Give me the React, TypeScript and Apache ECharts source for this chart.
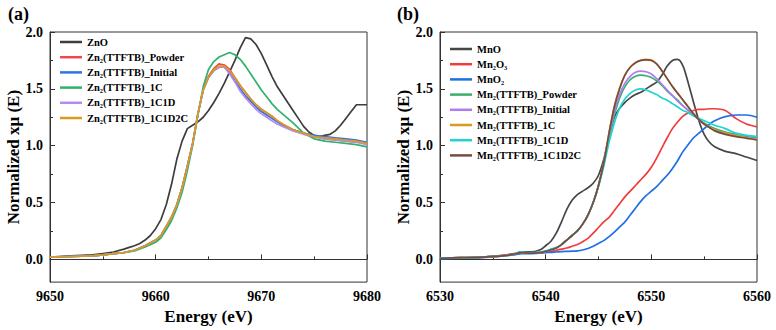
import React, { useEffect, useRef } from "react";
import * as echarts from "echarts";

const FONT = "Liberation Serif";

// ---------- Panel (a): Zn K-edge ----------
const znoEnergy = [9650, 9652, 9654, 9655, 9656, 9657, 9657.5, 9658, 9658.5, 9659, 9659.5, 9660, 9660.5, 9661, 9661.5, 9662, 9662.5, 9663, 9663.5, 9664, 9664.5, 9665, 9665.5, 9666, 9666.5, 9667, 9667.5, 9668, 9668.5, 9669, 9669.5, 9670, 9670.5, 9671, 9671.5, 9672, 9672.5, 9673, 9673.5, 9674, 9674.5, 9675, 9675.5, 9676, 9676.5, 9677, 9677.5, 9678, 9678.5, 9679, 9680];
const znoValues = [0.02, 0.03, 0.04, 0.05, 0.065, 0.09, 0.105, 0.12, 0.14, 0.17, 0.21, 0.27, 0.35, 0.48, 0.66, 0.88, 1.04, 1.15, 1.18, 1.21, 1.25, 1.31, 1.38, 1.46, 1.55, 1.65, 1.75, 1.86, 1.95, 1.94, 1.89, 1.81, 1.71, 1.61, 1.52, 1.45, 1.38, 1.31, 1.24, 1.17, 1.12, 1.09, 1.08, 1.09, 1.1, 1.13, 1.18, 1.24, 1.3, 1.36, 1.36];

const znEnergy = [9650, 9652, 9654, 9655, 9656, 9657, 9658, 9659, 9660, 9660.5, 9661, 9661.5, 9662, 9662.5, 9663, 9663.5, 9664, 9664.5, 9665, 9665.5, 9666, 9666.5, 9667, 9667.5, 9668, 9668.5, 9669, 9669.5, 9670, 9670.5, 9671, 9671.5, 9672, 9673, 9674, 9675, 9676, 9677, 9678, 9679, 9680];
const znPowder = [0.02, 0.025, 0.03, 0.04, 0.05, 0.06, 0.08, 0.12, 0.17, 0.21, 0.29, 0.37, 0.48, 0.63, 0.82, 1.02, 1.28, 1.49, 1.61, 1.68, 1.72, 1.71, 1.67, 1.6, 1.53, 1.47, 1.41, 1.36, 1.32, 1.29, 1.26, 1.22, 1.19, 1.14, 1.11, 1.08, 1.06, 1.05, 1.04, 1.03, 1.02];
const znInitial = [0.02, 0.025, 0.03, 0.04, 0.05, 0.06, 0.08, 0.12, 0.17, 0.21, 0.29, 0.37, 0.48, 0.63, 0.82, 1.02, 1.28, 1.49, 1.6, 1.66, 1.69, 1.69, 1.64, 1.57, 1.5, 1.44, 1.39, 1.34, 1.3, 1.27, 1.24, 1.21, 1.18, 1.14, 1.11, 1.09, 1.08, 1.07, 1.06, 1.05, 1.03];
const zn1C = [0.02, 0.025, 0.03, 0.04, 0.05, 0.06, 0.075, 0.11, 0.15, 0.19, 0.26, 0.34, 0.45, 0.59, 0.78, 1.0, 1.27, 1.52, 1.67, 1.74, 1.78, 1.8, 1.82, 1.8, 1.76, 1.7, 1.63, 1.56, 1.49, 1.43, 1.37, 1.32, 1.28, 1.2, 1.11, 1.06, 1.04, 1.03, 1.02, 1.01, 0.99];
const zn1C1D = [0.02, 0.025, 0.03, 0.04, 0.05, 0.06, 0.08, 0.12, 0.17, 0.21, 0.29, 0.37, 0.48, 0.63, 0.82, 1.02, 1.28, 1.49, 1.6, 1.66, 1.69, 1.69, 1.63, 1.56, 1.48, 1.42, 1.37, 1.32, 1.28, 1.25, 1.22, 1.19, 1.17, 1.13, 1.1, 1.08, 1.06, 1.05, 1.04, 1.03, 1.01];
const zn1C1D2C = [0.02, 0.025, 0.03, 0.04, 0.05, 0.06, 0.08, 0.12, 0.17, 0.21, 0.29, 0.37, 0.48, 0.63, 0.82, 1.02, 1.28, 1.49, 1.6, 1.67, 1.7, 1.7, 1.66, 1.6, 1.53, 1.47, 1.41, 1.36, 1.32, 1.29, 1.26, 1.22, 1.19, 1.14, 1.11, 1.08, 1.07, 1.06, 1.05, 1.04, 1.02];

// ---------- Panel (b): Mn K-edge ----------
const mnEnergy = [6530, 6532, 6534, 6536, 6537, 6537.7, 6538.5, 6539.5, 6540, 6540.5, 6541, 6541.5, 6542, 6542.5, 6543, 6543.5, 6544, 6544.5, 6545, 6545.5, 6546, 6546.5, 6547, 6547.5, 6548, 6548.5, 6549, 6549.5, 6550, 6550.5, 6551, 6551.5, 6552, 6552.5, 6553, 6553.5, 6554, 6554.5, 6555, 6555.5, 6556, 6557, 6558, 6559, 6560];
const mnO = [0.01, 0.012, 0.02, 0.035, 0.05, 0.065, 0.065, 0.085, 0.12, 0.16, 0.23, 0.33, 0.44, 0.52, 0.57, 0.6, 0.63, 0.67, 0.74, 0.88, 1.08, 1.25, 1.33, 1.38, 1.42, 1.45, 1.47, 1.5, 1.53, 1.56, 1.62, 1.7, 1.75, 1.76, 1.7, 1.55, 1.38, 1.22, 1.1, 1.03, 0.99, 0.95, 0.93, 0.9, 0.87];
const mn2O3 = [0.01, 0.015, 0.02, 0.035, 0.045, 0.055, 0.055, 0.06, 0.065, 0.07, 0.08, 0.09, 0.1, 0.115, 0.13, 0.155, 0.185, 0.23, 0.28, 0.33, 0.37, 0.43, 0.49, 0.55, 0.6, 0.65, 0.7, 0.75, 0.81, 0.89, 0.98, 1.07, 1.15, 1.21, 1.26, 1.29, 1.31, 1.32, 1.32, 1.325, 1.325, 1.31, 1.24, 1.19, 1.165];
const mnO2 = [0.005, 0.01, 0.015, 0.03, 0.04, 0.05, 0.05, 0.055, 0.06, 0.062, 0.065, 0.068, 0.07, 0.072, 0.075, 0.082, 0.095, 0.115, 0.14, 0.165, 0.2, 0.24, 0.285, 0.33, 0.39, 0.45, 0.51, 0.56, 0.6, 0.64, 0.69, 0.74, 0.8, 0.87, 0.95, 1.01, 1.07, 1.11, 1.15, 1.19, 1.22, 1.255, 1.27, 1.27, 1.25];
const mnPowder = [0.01, 0.015, 0.02, 0.03, 0.045, 0.06, 0.055, 0.06, 0.07, 0.085, 0.1, 0.13, 0.17, 0.21, 0.25, 0.31, 0.39, 0.5, 0.65, 0.84, 1.07, 1.27, 1.42, 1.52, 1.58, 1.61, 1.62, 1.615, 1.6, 1.57, 1.53, 1.48, 1.44, 1.4, 1.35, 1.31, 1.27, 1.23, 1.2, 1.17, 1.15, 1.12, 1.1, 1.08, 1.07];
const mnInitial = [0.01, 0.015, 0.02, 0.03, 0.045, 0.06, 0.055, 0.06, 0.07, 0.085, 0.1, 0.13, 0.17, 0.21, 0.25, 0.31, 0.39, 0.5, 0.65, 0.85, 1.09, 1.3, 1.45, 1.55, 1.61, 1.645, 1.655, 1.65, 1.63, 1.59, 1.54, 1.49, 1.44, 1.39, 1.35, 1.31, 1.27, 1.23, 1.19, 1.16, 1.14, 1.11, 1.09, 1.07, 1.06];
const mn1C = [0.01, 0.015, 0.02, 0.03, 0.045, 0.06, 0.055, 0.06, 0.07, 0.085, 0.1, 0.13, 0.17, 0.21, 0.25, 0.31, 0.39, 0.5, 0.65, 0.85, 1.12, 1.35, 1.51, 1.62, 1.69, 1.73, 1.75, 1.76, 1.755, 1.72, 1.66, 1.59, 1.52, 1.46, 1.4, 1.34, 1.28, 1.23, 1.19, 1.16, 1.14, 1.11, 1.09, 1.07, 1.055];
const mn1C1D = [0.01, 0.015, 0.02, 0.03, 0.045, 0.065, 0.06, 0.065, 0.075, 0.09, 0.105, 0.13, 0.17, 0.21, 0.25, 0.31, 0.39, 0.5, 0.64, 0.82, 1.03, 1.2, 1.33, 1.41, 1.46, 1.49, 1.5, 1.49, 1.47, 1.45, 1.42, 1.4, 1.37, 1.34, 1.31, 1.29, 1.26, 1.24, 1.22, 1.2, 1.18, 1.15, 1.11, 1.09, 1.08];
const mn1C1D2C = [0.01, 0.015, 0.02, 0.03, 0.045, 0.06, 0.055, 0.06, 0.07, 0.085, 0.1, 0.13, 0.17, 0.21, 0.25, 0.31, 0.39, 0.5, 0.65, 0.85, 1.11, 1.34, 1.5, 1.62, 1.69, 1.73, 1.75, 1.755, 1.75, 1.72, 1.66, 1.59, 1.52, 1.46, 1.4, 1.34, 1.28, 1.23, 1.19, 1.16, 1.13, 1.1, 1.08, 1.065, 1.05];

const yMajorTicks = [0, 0.5, 1, 1.5, 2];
const yMinorTicks = [0.25, 0.75, 1.25, 1.75];

const zip = (xs: number[], ys: number[]) => xs.map((x, i) => [x, ys[i]]);

const zincSeries = [
  { name: "ZnO", x: znoEnergy, y: znoValues, color: "#3d3d3d" },
  { name: "Zn₂(TTFTB)_Powder", x: znEnergy, y: znPowder, color: "#f04848" },
  { name: "Zn₂(TTFTB)_Initial", x: znEnergy, y: znInitial, color: "#2f74e0" },
  { name: "Zn₂(TTFTB)_1C", x: znEnergy, y: zn1C, color: "#2fb26b" },
  { name: "Zn₂(TTFTB)_1C1D", x: znEnergy, y: zn1C1D, color: "#b48cf0" },
  { name: "Zn₂(TTFTB)_1C1D2C", x: znEnergy, y: zn1C1D2C, color: "#d99b1c" },
];

const mnSeries = [
  { name: "MnO", y: mnO, color: "#464646" },
  { name: "Mn₂O₃", y: mn2O3, color: "#f03c3c" },
  { name: "MnO₂", y: mnO2, color: "#1f6fe5" },
  { name: "Mn₂(TTFTB)_Powder", y: mnPowder, color: "#3aae6e" },
  { name: "Mn₂(TTFTB)_Initial", y: mnInitial, color: "#b07cf0" },
  { name: "Mn₂(TTFTB)_1C", y: mn1C, color: "#d99b1c" },
  { name: "Mn₂(TTFTB)_1C1D", y: mn1C1D, color: "#1fd3d0" },
  { name: "Mn₂(TTFTB)_1C1D2C", y: mn1C1D2C, color: "#774c44" },
];

const AXIS_COLOR = "#333";

function txt(size: number) {
  return { fontSize: size, fontWeight: "bold", color: "#000", fontFamily: FONT };
}

function makeX(gridIndex: number, min: number, max: number) {
  return {
    gridIndex,
    type: "value",
    min,
    max,
    interval: 10,
    name: "Energy (eV)",
    nameLocation: "middle",
    nameGap: 21,
    nameTextStyle: txt(17),
    axisLine: { show: true, lineStyle: { color: AXIS_COLOR, width: 1 } },
    axisTick: { show: true, inside: true, length: 5, lineStyle: { color: AXIS_COLOR } },
    minorTick: { show: true, splitNumber: 2, length: 3, lineStyle: { color: AXIS_COLOR } },
    axisLabel: {
      ...txt(14),
      formatter: (v: number) => String(v),
      margin: 7,
      showMinLabel: true,
      showMaxLabel: true,
      hideOverlap: false,
    },
    splitLine: { show: false },
    minorSplitLine: { show: false },
  };
}

function makeYMajor(gridIndex: number) {
  return {
    gridIndex,
    type: "value",
    position: "left",
    min: -0.2,
    max: 2.0,
    name: "Normalized xμ (E)",
    nameLocation: "middle",
    nameGap: 28,
    nameRotate: 90,
    nameTextStyle: txt(17),
    axisLine: { show: true, lineStyle: { color: AXIS_COLOR, width: 1 } },
    axisTick: { show: true, inside: true, length: 5, customValues: yMajorTicks, lineStyle: { color: AXIS_COLOR } },
    axisLabel: {
      ...txt(14),
      customValues: yMajorTicks,
      formatter: (v: number) => v.toFixed(1),
      margin: 7,
    },
    splitLine: { show: false },
  };
}

function makeYMinor(gridIndex: number) {
  return {
    gridIndex,
    type: "value",
    position: "left",
    min: -0.2,
    max: 2.0,
    axisLine: { show: false },
    axisTick: { show: true, inside: true, length: 3, customValues: yMinorTicks, lineStyle: { color: AXIS_COLOR } },
    axisLabel: { show: false },
    splitLine: { show: false },
  };
}

function legendFor(names: string[], left: number, top: number) {
  return {
    orient: "vertical",
    left,
    top,
    padding: 0,
    icon: "rect",
    itemWidth: 22,
    itemHeight: 2.5,
    itemGap: 3.2,
    selectedMode: false,
    data: names,
    textStyle: { ...txt(10.5), lineHeight: 12 },
  };
}

export default function App() {
  const ref = useRef<HTMLDivElement>(null);
  useEffect(() => {
    if (!ref.current) return;
    const chart = echarts.init(ref.current, undefined, { renderer: "svg" });
    const series: any[] = [];
    zincSeries.forEach((s) =>
      series.push({
        name: s.name,
        type: "line",
        xAxisIndex: 0,
        yAxisIndex: 0,
        data: zip(s.x, s.y),
        symbol: "none",
        smooth: false,
        lineStyle: { color: s.color, width: 1.7 },
        itemStyle: { color: s.color },
      })
    );
    mnSeries.forEach((s) =>
      series.push({
        name: s.name,
        type: "line",
        xAxisIndex: 1,
        yAxisIndex: 2,
        data: zip(mnEnergy, s.y),
        symbol: "none",
        smooth: 0.3,
        lineStyle: { color: s.color, width: 1.7 },
        itemStyle: { color: s.color },
      })
    );
    chart.setOption({
      animation: false,
      backgroundColor: "#fff",
      textStyle: { fontFamily: FONT, fontWeight: "bold" },
      grid: [
        { left: 50, top: 32, width: 317, height: 254, show: true, borderColor: AXIS_COLOR, borderWidth: 1, backgroundColor: "transparent" },
        { left: 440, top: 32, width: 317, height: 254, show: true, borderColor: AXIS_COLOR, borderWidth: 1, backgroundColor: "transparent" },
      ],
      xAxis: [makeX(0, 9650, 9680), makeX(1, 6530, 6560)],
      yAxis: [makeYMajor(0), makeYMinor(0), makeYMajor(1), makeYMinor(1)],
      legend: [
        legendFor(zincSeries.map((s) => s.name), 60, 36),
        legendFor(mnSeries.map((s) => s.name), 450, 43),
      ],
      graphic: [
        { type: "text", left: 8, top: 5, style: { text: "(a)", fontSize: 18, fontWeight: "bold", fontFamily: FONT, fill: "#000" } },
        { type: "text", left: 397, top: 5, style: { text: "(b)", fontSize: 18, fontWeight: "bold", fontFamily: FONT, fill: "#000" } },
      ],
      series,
    });
    return () => chart.dispose();
  }, []);
  return (
    <div
      ref={ref}
      style={{ position: "fixed", left: 0, top: 0, width: 776, height: 330, background: "#fff" }}
    />
  );
}
